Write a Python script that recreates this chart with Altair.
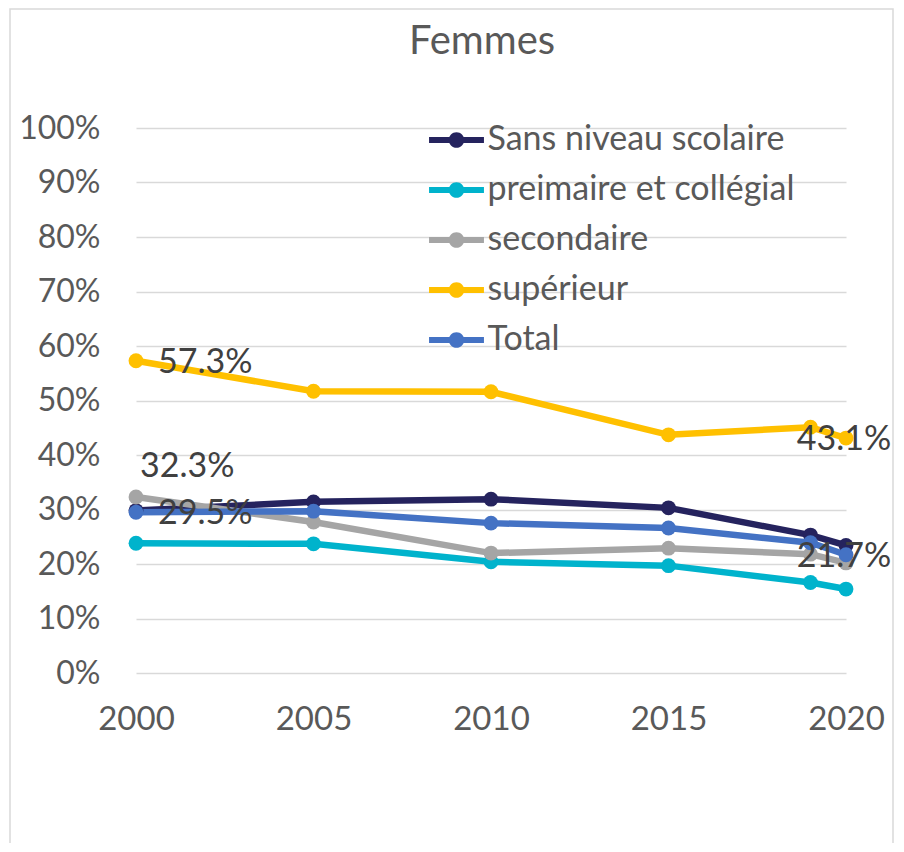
import altair as alt
import pandas as pd

years = [2000, 2005, 2010, 2015, 2019, 2020]
series_names = ["Sans niveau scolaire", "preimaire et collégial", "secondaire", "supérieur", "Total"]
sans_niveau = [29.8, 31.4, 31.9, 30.3, 25.3, 23.4]
primaire = [23.8, 23.7, 20.4, 19.7, 16.6, 15.4]
secondaire = [32.3, 27.7, 22.0, 22.9, 21.8, 20.2]
superieur = [57.3, 51.7, 51.6, 43.7, 45.1, 43.1]
total = [29.5, 29.7, 27.5, 26.6, 23.9, 21.7]
colors = ["#25235E", "#00B3CC", "#A5A5A5", "#FFC000", "#4472C4"]

# data labels: (series, year, style)
label_series = ["supérieur", "secondaire", "Total", "supérieur", "Total"]
label_years = [2000, 2000, 2000, 2020, 2020]
label_style = ["right", "above", "right", "center", "center"]

rows = []
for name, vals in zip(series_names, [sans_niveau, primaire, secondaire, superieur, total]):
    for y, v in zip(years, vals):
        rows.append({"year": y, "value": v, "series": name})
df = pd.DataFrame(rows)

lab_rows = []
for s, y, st in zip(label_series, label_years, label_style):
    v = df[(df.series == s) & (df.year == y)].value.iloc[0]
    lab_rows.append({"year": y, "value": v, "series": s, "label": f"{v:.1f}%", "style": st})
ldf = pd.DataFrame(lab_rows)

FONT = "Lato"
TXT = "#595959"

x = alt.X("year:Q", scale=alt.Scale(domain=[2000, 2020], nice=False, zero=False),
          axis=alt.Axis(values=[2000, 2005, 2010, 2015, 2020], format="d", grid=False,
                        domain=False, ticks=False, labelPadding=30, labelFontSize=33,
                        labelFlush=False, labelOverlap=False,
                        labelColor=TXT, labelFont=FONT, title=None))
y = alt.Y("value:Q", scale=alt.Scale(domain=[0, 100], nice=False),
          axis=alt.Axis(values=list(range(0, 101, 10)), labelExpr="datum.value + '%'",
                        domain=False, ticks=False, labelPadding=36, labelFontSize=32,
                        labelColor=TXT, labelFont=FONT, gridColor="#D9D9D9", gridWidth=1.5,
                        title=None))

legend_path = ("M-1.83,-0.2 L1.83,-0.2 L1.83,0.2 L-1.83,0.2 Z "
               "M0.52,0 A0.52,0.52 0 1,1 -0.52,0 A0.52,0.52 0 1,1 0.52,0 Z")
color = alt.Color("series:N", sort=series_names,
                  scale=alt.Scale(domain=series_names, range=colors),
                  legend=alt.Legend(orient="none", legendX=303.5, legendY=-5, title=None,
                                    symbolType=legend_path, symbolSize=900, symbolStrokeWidth=0,
                                    labelFontSize=34, labelFont=FONT, labelColor=TXT,
                                    labelOffset=14, rowPadding=16, padding=0, labelLimit=450))

base = alt.Chart(df)
lines = base.mark_line(strokeWidth=6.5).encode(x=x, y=y, color=color, detail="series:N")
points = base.mark_point(filled=True, size=220, opacity=1).encode(x=x, y=y, color=color)

lab = alt.Chart(ldf)
tstyle = dict(font=FONT, fontSize=34, color="#404040", baseline="middle")
t_right = lab.transform_filter("datum.style == 'right'").mark_text(align="left", dx=22, dy=2, **tstyle).encode(
    x="year:Q", y="value:Q", text="label:N")
t_above = lab.transform_filter("datum.style == 'above'").mark_text(align="left", dx=4, dy=-30, **tstyle).encode(
    x="year:Q", y="value:Q", text="label:N")
t_center = lab.transform_filter("datum.style == 'center'").mark_text(align="center", dx=-2, dy=2, **tstyle).encode(
    x="year:Q", y="value:Q", text="label:N")

frame = alt.Chart(pd.DataFrame({"k": [0]})).mark_rect(fill=None, stroke="#D9D9D9", strokeWidth=1.5).encode(
    x=alt.value(-126), x2=alt.value(757), y=alt.value(-119), y2=alt.value(720))

title_mark = alt.Chart(pd.DataFrame({"t": ["Femmes"]})).mark_text(
    font=FONT, fontSize=40, color=TXT, align="center", baseline="alphabetic").encode(
    x=alt.value(346), y=alt.value(-74), text="t:N")

chart = alt.layer(frame, title_mark, lines, points, t_right, t_above, t_center).properties(
    width=710, height=545,
    autosize=alt.AutoSizeParams(type="none"),
    padding={"left": 128, "top": 120, "right": 50, "bottom": 170},
).configure_view(stroke=None)

chart.save("out.html", embed_options={"renderer": "svg", "actions": False})
